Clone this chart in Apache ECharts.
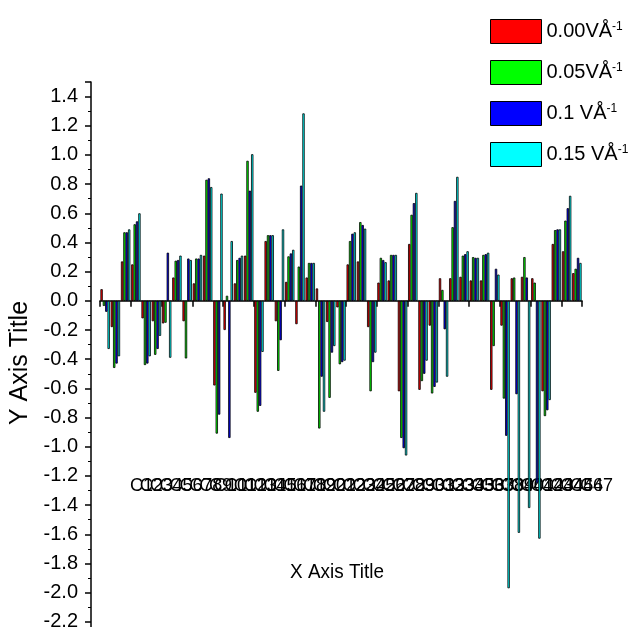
<!DOCTYPE html>
<html>
<head>
<meta charset="utf-8">
<script src="https://cdn.jsdelivr.net/npm/echarts@6/dist/echarts.min.js"></script>
<style>
html, body { margin: 0; padding: 0; background: #fff; }
#chart { width: 632px; height: 627px; }
</style>
</head>
<body>
<div id="chart"></div>
<script>
// categories C1..C47
const categories = [
  'C1', 'C2', 'C3', 'C4', 'C5', 'C6', 'C7', 'C8', 'C9', 'C10',
  'C11', 'C12', 'C13', 'C14', 'C15', 'C16', 'C17', 'C18', 'C19', 'C20',
  'C21', 'C22', 'C23', 'C24', 'C25', 'C26', 'C27', 'C28', 'C29', 'C30',
  'C31', 'C32', 'C33', 'C34', 'C35', 'C36', 'C37', 'C38', 'C39', 'C40',
  'C41', 'C42', 'C43', 'C44', 'C45', 'C46', 'C47'
];

const seriesNames = ['0.00VÅ', '0.05VÅ', '0.1 VÅ', '0.15 VÅ'];
const seriesColors = ['#ff0000', '#00ff00', '#0000ff', '#00ffff'];

const v000 = [
  0.08, -0.18, 0.27, 0.25, -0.12, -0.14, -0.155, 0.16, -0.14, 0.12,
  0.31, -0.58, -0.20, 0.12, 0.31, -0.63, 0.41, -0.14, 0.13, -0.16,
  0.16, 0.085, -0.145, -0.045, 0.25, 0.27, -0.18, 0.125, 0.14, -0.62,
  0.39, -0.61, -0.17, 0.155, 0.155, 0.165, 0.14, 0.14, -0.61, -0.17,
  0.155, 0.165, 0.155, -0.62, 0.39, 0.34, 0.19
];
const v005 = [
  -0.035, -0.46, 0.47, 0.525, -0.44, -0.37, -0.15, 0.275, -0.395, 0.29,
  0.83, -0.91, 0.035, 0.28, 0.96, -0.76, 0.45, -0.48, 0.305, 0.235,
  0.26, -0.875, -0.665, -0.435, 0.41, 0.54, -0.62, 0.295, 0.315, -0.94,
  0.59, -0.55, -0.635, 0.075, 0.505, 0.31, 0.30, 0.315, -0.31, -0.67,
  0.16, 0.30, 0.125, -0.79, 0.485, 0.55, 0.22
];
const v010 = [
  -0.075, -0.43, 0.47, 0.545, -0.43, -0.33, 0.33, 0.28, 0.29, 0.29,
  0.84, -0.78, -0.94, 0.295, 0.755, -0.72, 0.45, -0.27, 0.325, 0.79,
  0.26, -0.52, -0.355, -0.42, 0.46, 0.52, -0.42, 0.28, 0.315, -1.01,
  0.67, -0.50, -0.59, -0.195, 0.685, 0.32, 0.295, 0.32, 0.22, -0.925,
  -0.64, 0.16, -1.25, -0.75, 0.49, 0.635, 0.295
];
const v015 = [
  -0.33, -0.38, 0.49, 0.60, -0.38, -0.24, -0.39, 0.31, 0.28, 0.315,
  0.78, 0.735, 0.41, 0.31, 1.005, -0.35, 0.45, 0.49, 0.35, 1.285,
  0.26, -0.76, -0.31, -0.41, 0.47, 0.495, -0.355, 0.265, 0.315, -1.06,
  0.74, -0.41, -0.56, -0.52, 0.85, 0.34, 0.295, 0.33, 0.18, -1.97,
  -1.59, -1.42, -1.63, -0.68, 0.49, 0.72, 0.26
];
const seriesValues = [v000, v005, v010, v015];

const FONT = 'Liberation Sans, Arial, sans-serif';

const chart = echarts.init(document.getElementById('chart'));

const option = {
  backgroundColor: '#fff',
  animation: false,
  textStyle: { fontFamily: FONT, color: '#000' },
  grid: [
    // plot area
    { left: 100, right: 50, top: 82, bottom: -24, outerBoundsMode: 'none', containLabel: false },
    // label strip (the category labels sit a little off the bars, as in the source)
    { left: 136.5, right: 30.6, top: 400, bottom: 150, outerBoundsMode: 'none', containLabel: false }
  ],
  legend: {
    orient: 'vertical',
    left: 485,
    top: 14,
    icon: 'rect',
    itemWidth: 51,
    itemHeight: 24,
    itemGap: 16,
    itemStyle: { borderColor: '#000', borderWidth: 1 },
    data: seriesNames,
    formatter: name => '{n|' + name + '}{s|-1}',
    textStyle: {
      rich: {
        n: { fontFamily: FONT, fontSize: 20, color: '#000', lineHeight: 22 },
        s: { fontFamily: FONT, fontSize: 12, color: '#000', verticalAlign: 'top', lineHeight: 22 }
      }
    }
  },
  xAxis: [
    {
      type: 'category',
      gridIndex: 0,
      data: categories,
      axisLine: { onZero: true, lineStyle: { color: '#000', width: 1.5 } },
      axisTick: { show: true, length: 6, lineStyle: { color: '#000', width: 1.5 } },
      axisLabel: { show: false },
      splitLine: { show: false }
    },
    {
      type: 'category',
      gridIndex: 1,
      data: categories,
      axisLine: { show: false },
      axisTick: { show: false },
      axisLabel: { interval: 0, margin: 0, fontSize: 18, color: '#000', fontFamily: FONT },
      splitLine: { show: false }
    }
  ],
  yAxis: [
    {
      type: 'value',
      gridIndex: 0,
      min: -2.4,
      max: 1.5,
      interval: 0.2,
      offset: 9,
      axisLine: { show: true, lineStyle: { color: '#000', width: 1.5 } },
      axisTick: { show: true, length: 6, lineStyle: { color: '#000', width: 1.5 } },
      minorTick: { show: true, splitNumber: 2, length: 3, lineStyle: { color: '#000', width: 1 } },
      axisLabel: {
        fontSize: 20,
        color: '#000',
        margin: 13,
        showMaxLabel: false,
        formatter: v => v.toFixed(1)
      },
      splitLine: { show: false }
    },
    {
      type: 'value',
      gridIndex: 1,
      show: false
    }
  ],
  graphic: [
    {
      type: 'text',
      x: 20,
      y: 363,
      rotation: Math.PI / 2,
      style: { text: 'Y Axis Title', fontSize: 25, fontFamily: FONT, fill: '#000', align: 'center', verticalAlign: 'middle' }
    },
    {
      type: 'text',
      x: 337,
      y: 572,
      scaleX: 0.9,
      style: { text: 'X Axis Title', fontSize: 21, fontFamily: FONT, fill: '#000', align: 'center', verticalAlign: 'middle' }
    }
  ],
  series: seriesNames.map((name, i) => ({
    name,
    type: 'bar',
    xAxisIndex: 0,
    yAxisIndex: 0,
    data: seriesValues[i],
    barGap: '0%',
    barCategoryGap: '8%',
    itemStyle: { color: seriesColors[i], borderColor: '#000', borderWidth: 0.8 }
  }))
};

chart.setOption(option);
</script>
</body>
</html>
